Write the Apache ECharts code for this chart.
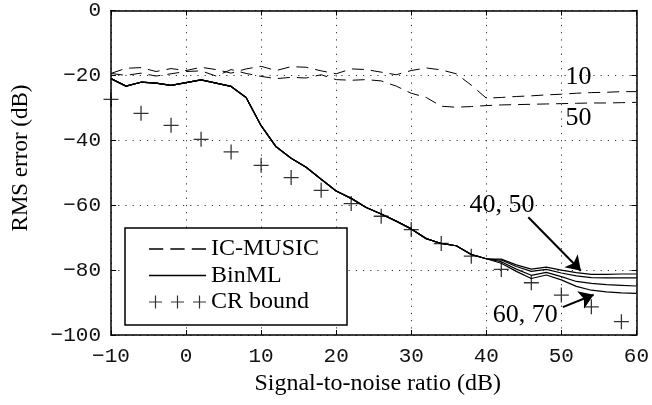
<!DOCTYPE html>
<html>
<head>
<meta charset="utf-8">
<script src="https://cdn.jsdelivr.net/npm/echarts@6/dist/echarts.min.js"></script>
<style>html,body{margin:0;padding:0;background:#fff}#c{width:652px;height:405px}</style>
</head>
<body>
<div id="c"></div>
<script>
// ---- data ----
const snr = [-10,-8,-6,-4,-2,0,2,4,6,8,10,12,14,16,18,20,22,24,26,28,30,32,34,36,38,40,42,44,46,48,50,52,54,56,58,60];
const icMusic10 = [-19.4,-17.8,-17.6,-18.8,-17.9,-18.5,-17.5,-18.2,-19.3,-18,-17.2,-18.5,-17.3,-17.5,-18.6,-19.5,-18,-18.2,-19,-19.8,-18.5,-17.7,-18.3,-19.5,-23,-27,-26.8,-26.5,-26.3,-26,-25.8,-25.5,-25.3,-25.2,-25,-25];
const icMusic50 = [-19.4,-20,-19.3,-20.2,-19.5,-18.8,-18.6,-20.2,-18.2,-19.4,-20.3,-21,-20.6,-20.8,-19.8,-21.3,-21.5,-21.3,-21.7,-23.3,-25.5,-26.8,-29.5,-29.8,-29.6,-29.3,-29.1,-29,-28.9,-28.8,-28.7,-28.6,-28.5,-28.5,-28.4,-28.3];
const binML40 = [-21,-23.3,-22.1,-22.4,-23.1,-22.2,-21.4,-22.4,-23.4,-26.8,-35.5,-42,-45.5,-48.3,-52,-55.6,-57.9,-60.7,-62.7,-64.9,-67.3,-70.3,-71.8,-72.5,-75.2,-76.5,-76.6,-78.4,-79.7,-79.1,-80,-80.8,-81.3,-81.3,-81.2,-81.2];
const binML50 = [-21,-23.3,-22.1,-22.4,-23.1,-22.2,-21.4,-22.4,-23.4,-26.8,-35.5,-42,-45.5,-48.3,-52,-55.6,-57.9,-60.7,-62.7,-64.9,-67.3,-70.3,-71.8,-72.5,-75.2,-76.5,-76.9,-78.9,-80.4,-79.8,-80.9,-81.8,-82.3,-82.4,-82.4,-82.4];
const binML60 = [-21,-23.3,-22.1,-22.4,-23.1,-22.2,-21.4,-22.4,-23.4,-26.8,-35.5,-42,-45.5,-48.3,-52,-55.6,-57.9,-60.7,-62.7,-64.9,-67.3,-70.3,-71.8,-72.5,-75.2,-76.5,-77.4,-79.7,-81.6,-80.7,-82,-83.5,-84.1,-84.5,-84.7,-84.9];
const binML70 = [-21,-23.3,-22.1,-22.4,-23.1,-22.2,-21.4,-22.4,-23.4,-26.8,-35.5,-42,-45.5,-48.3,-52,-55.6,-57.9,-60.7,-62.7,-64.9,-67.3,-70.3,-71.8,-72.5,-75.2,-76.5,-77.9,-80.4,-82.6,-81.5,-83,-85,-86.2,-86.7,-87,-87.2];
const crSnr = [-10,-6,-2,2,6,10,14,18,22,26,30,34,38,42,46,50,54,58];
const crBound = [-27.4,-31.7,-35.4,-39.7,-43.6,-47.7,-51.5,-55.4,-59.5,-63.4,-67.5,-71.8,-75.7,-79.8,-83.9,-87.7,-91.3,-95.9];
const xTicks = [-10,0,10,20,30,40,50,60];
const yTicks = [-100,-80,-60,-40,-20,0];
const legendNames = ['IC-MUSIC','BinML','CR bound'];
const xTitle = 'Signal-to-noise ratio (dB)';
const yTitle = 'RMS error (dB)';
// annotations (data coordinates)
const annoText = ['40, 50','60, 70','10','50'];
const annoPos = [[42.1,-60],[45.2,-93.8],[52.3,-20.6],[52.3,-33.2]];
const arrows = [[[45.6,-63.7],[52.6,-80.2]],[[50.2,-91.4],[54.3,-87.6]]];

// ---- chart ----
const pair = (xs, ys) => xs.map((x, i) => [x, ys[i]]);
const minus = v => String(v).replace('-', '\u2212');
const tickFont = { fontFamily: 'Liberation Mono', fontSize: 21, color: '#111' };
const serif = 'Liberation Serif';

const plusPath = 'path://M0 6.4h14v1.2h-14z M6.4 0h1.2v14h-1.2z';
const iconDash = 'path://M0 0h14v1.3h-14z M21 0h14v1.3h-14z M42 0h14v1.3h-14z';
const iconSolid = 'path://M0 0h57v1.3h-57z';
const iconPlus = 'path://M0 5.9h13v1.2h-13z M5.9 0h1.2v13h-1.2z M22 5.9h13v1.2h-13z M27.9 0h1.2v13h-1.2z M44 5.9h13v1.2h-13z M49.9 0h1.2v13h-1.2z';

function lineSeries(name, ys, dashed, extra) {
  return Object.assign({
    name: name, type: 'line', data: pair(snr, ys), xAxisIndex: 0, yAxisIndex: 0,
    showSymbol: false, symbol: 'none', silent: true,
    itemStyle: { color: '#000' },
    lineStyle: { color: '#000', width: dashed ? 1 : 1.2, type: dashed ? [12, 7] : 'solid' }
  }, extra || {});
}

const chart = echarts.init(document.getElementById('c'), null, { renderer: 'canvas' });
chart.setOption({
  animation: false,
  backgroundColor: '#fff',
  grid: { left: 111, right: 14, top: 10, bottom: 70 },
  legend: {
    orient: 'vertical', left: 125, top: 228,
    padding: [9, 28, 11, 24], itemGap: 2.5,
    itemWidth: 57, itemHeight: 13,
    borderColor: '#000', borderWidth: 1.5, backgroundColor: '#fff',
    selectedMode: false,
    textStyle: { fontFamily: serif, fontSize: 24, color: '#000' },
    data: [
      { name: legendNames[0], icon: iconDash, itemStyle: { color: '#000', borderWidth: 0 } },
      { name: legendNames[1], icon: iconSolid, itemStyle: { color: '#000', borderWidth: 0 } },
      { name: legendNames[2], icon: iconPlus, itemStyle: { color: '#000', borderWidth: 0 } }
    ]
  },
  xAxis: [{
    type: 'value', min: -10, max: 60, interval: 10, position: 'bottom',
    name: xTitle, nameLocation: 'middle', nameGap: 37,
    nameTextStyle: { fontFamily: serif, fontSize: 24, color: '#000', padding: [0, 0, 0, 8] },
    axisLine: { show: true, onZero: false, lineStyle: { color: '#000', width: 1.5 } },
    axisTick: { show: true, inside: true, length: 5, lineStyle: { color: '#000' } },
    axisLabel: Object.assign({ margin: 11, formatter: minus }, tickFont),
    splitLine: { show: true, lineStyle: { color: '#333', width: 1, type: [1.2, 6] } }
  }, {
    type: 'value', min: -10, max: 60, interval: 10, position: 'top',
    axisLine: { show: true, onZero: false, lineStyle: { color: '#000', width: 1.5 } },
    axisTick: { show: true, inside: true, length: 5, lineStyle: { color: '#000' } },
    axisLabel: { show: false }, splitLine: { show: false }
  }],
  yAxis: [{
    type: 'value', min: -100, max: 0, interval: 20, position: 'left',
    axisLine: { show: true, onZero: false, lineStyle: { color: '#000', width: 1.5 } },
    axisTick: { show: true, inside: true, length: 5, lineStyle: { color: '#000' } },
    axisLabel: Object.assign({ margin: 10, formatter: minus }, tickFont),
    splitLine: { show: true, lineStyle: { color: '#333', width: 1, type: [1.2, 6] } }
  }, {
    type: 'value', min: -100, max: 0, interval: 20, position: 'right',
    axisLine: { show: true, onZero: false, lineStyle: { color: '#000', width: 1.5 } },
    axisTick: { show: true, inside: true, length: 5, lineStyle: { color: '#000' } },
    axisLabel: { show: false }, splitLine: { show: false }
  }],
  graphic: [{
    type: 'text', x: 21, y: 158, rotation: Math.PI / 2,
    style: { text: yTitle, fontFamily: serif, fontSize: 23, fill: '#000', textAlign: 'center', textVerticalAlign: 'middle' }
  }],
  series: [
    lineSeries(legendNames[0], icMusic10, true, {
      markPoint: {
        silent: true, symbol: 'rect', symbolSize: 1, itemStyle: { color: 'rgba(0,0,0,0)' },
        label: { show: true, position: 'inside', fontFamily: serif, fontSize: 26, color: '#000' },
        data: annoPos.map((p, i) => ({ coord: p, label: { formatter: annoText[i] } }))
      }
    }),
    lineSeries(legendNames[0], icMusic50, true),
    lineSeries(legendNames[1], binML40, false),
    lineSeries(legendNames[1], binML50, false),
    lineSeries(legendNames[1], binML60, false),
    lineSeries(legendNames[1], binML70, false, {
      markLine: {
        silent: true, symbol: ['none', 'arrow'], symbolSize: 14,
        label: { show: false },
        itemStyle: { color: '#000' },
        lineStyle: { color: '#000', width: 2, type: 'solid' },
        emphasis: { disabled: true },
        data: arrows.map(a => [{ coord: a[0] }, { coord: a[1] }])
      }
    }),
    {
      name: legendNames[2], type: 'scatter', data: pair(crSnr, crBound),
      symbol: plusPath, symbolSize: 15, silent: true,
      itemStyle: { color: '#000' }
    }
  ]
});
</script>
</body>
</html>
